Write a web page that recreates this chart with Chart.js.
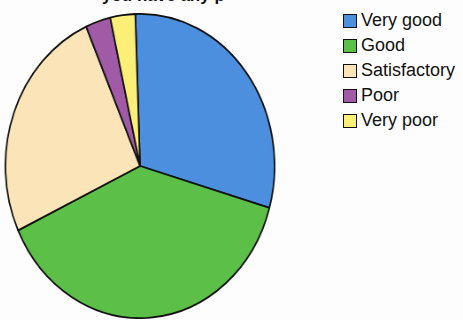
<!DOCTYPE html>
<html>
<head>
<meta charset="utf-8">
<script src="https://cdn.jsdelivr.net/npm/chart.js@4/dist/chart.umd.min.js"></script>
<style>
  html, body { margin: 0; padding: 0; background: #fdfdfd; }
  body { width: 463px; height: 320px; position: relative; overflow: hidden; }
  #title {
    position: absolute; left: 102px; top: -14px;
    font: bold 17px "Liberation Sans", Arial, sans-serif; color: #111;
    white-space: nowrap;
  }
  #wrap {
    position: absolute; left: -13px; top: 13px; width: 306px; height: 306px;
    transform: scaleX(0.885); transform-origin: center center;
  }
  #legend {
    position: absolute; left: 343px; top: 8px;
    font: 18px "Liberation Sans", Arial, sans-serif; color: #111;
  }
  .row { height: 25px; display: flex; align-items: center; }
  .box { width: 12px; height: 12px; border: 1.5px solid #111; margin-right: 4px; flex: none; }
</style>
</head>
<body>
<div id="title">you have any p</div>
<div id="wrap"><canvas id="c"></canvas></div>
<div id="legend"></div>
<script>
// Ratings and their share of responses (%)
const categories = ["Very good", "Good", "Satisfactory", "Poor", "Very poor"];
const shares = [30.0, 38.6, 25.4, 3.0, 3.0];
const colors = ["#4d8fdf", "#5cbf48", "#fbe5b8", "#a05aa6", "#fcef78"];

const chart = new Chart(document.getElementById("c"), {
  type: "pie",
  data: {
    labels: categories,
    datasets: [{
      data: shares,
      backgroundColor: colors,
      borderColor: "#111",
      borderWidth: 1.8
    }]
  },
  options: {
    responsive: true,
    maintainAspectRatio: false,
    animation: false,
    rotation: -2,
    layout: { padding: 0 },
    plugins: {
      legend: { display: false },
      tooltip: { enabled: false }
    }
  }
});

// Legend built from the chart's own legend items
const legend = document.getElementById("legend");
chart.options.plugins.legend.labels.generateLabels(chart).forEach(item => {
  const row = document.createElement("div");
  row.className = "row";
  const box = document.createElement("span");
  box.className = "box";
  box.style.background = item.fillStyle;
  const text = document.createElement("span");
  text.textContent = item.text;
  row.appendChild(box);
  row.appendChild(text);
  legend.appendChild(row);
});
</script>
</body>
</html>
